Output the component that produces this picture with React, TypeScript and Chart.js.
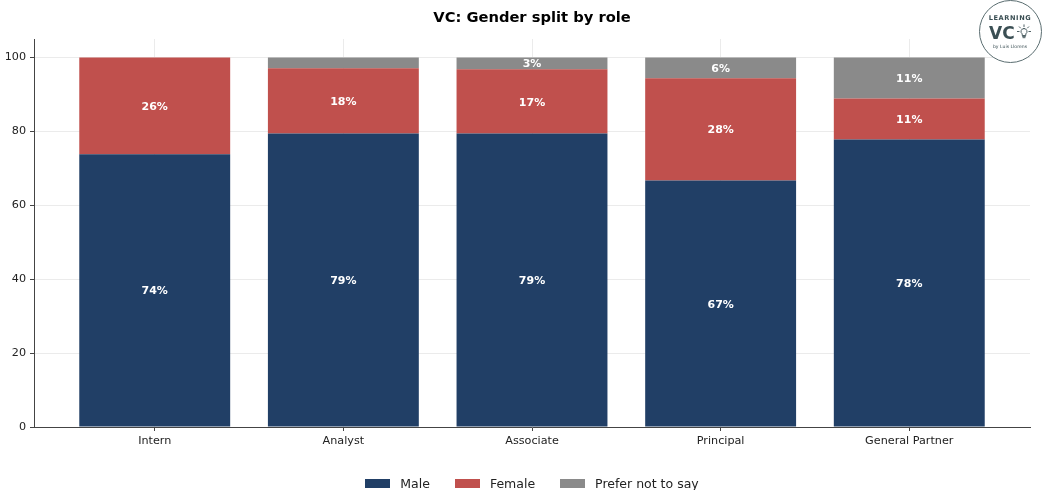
import React, { useEffect, useRef } from "react";
import { Chart, registerables } from "chart.js";

Chart.register(...registerables);

const categories = ["Intern", "Analyst", "Associate", "Principal", "General Partner"];
const maleValues = [73.8, 79.4, 79.4, 66.7, 77.8];
const femaleValues = [26.2, 17.7, 17.4, 27.7, 11.1];
const preferValues = [0, 2.9, 3.2, 5.6, 11.1];
const seriesNames = ["Male", "Female", "Prefer not to say"];
const yTicks = [0, 20, 40, 60, 80, 100];

const colors = ["#213F66", "#C0504D", "#8A8A8A"];
const FONT = "'DejaVu Sans', sans-serif";

const labelPlugin = {
  id: "segLabels",
  afterDatasetsDraw(chart: any) {
    const ctx = chart.ctx;
    ctx.save();
    ctx.font = `bold 11px ${FONT}`;
    ctx.fillStyle = "#ffffff";
    ctx.textAlign = "center";
    ctx.textBaseline = "middle";
    chart.data.datasets.forEach((ds: any, di: number) => {
      const meta = chart.getDatasetMeta(di);
      meta.data.forEach((el: any, i: number) => {
        const v = ds.data[i].y;
        if (v >= 3) {
          const y = (el.y + el.base) / 2 + 1.2;
          ctx.fillText(`${Math.round(v)}%`, el.x, y);
        }
      });
    });
    ctx.restore();
  },
};

export default function App() {
  const ref = useRef<HTMLCanvasElement | null>(null);

  useEffect(() => {
    document.body.style.margin = "0";
    const seriesValues = [maleValues, femaleValues, preferValues];
    const chart = new Chart(ref.current as HTMLCanvasElement, {
      type: "bar",
      data: {
        datasets: seriesNames.map((name, si) => ({
          label: name,
          data: seriesValues[si].map((v, i) => ({ x: i, y: v })),
          backgroundColor: colors[si],
          borderWidth: 0,
          barPercentage: 0.8,
          categoryPercentage: 1,
        })),
      },
      options: {
        responsive: false,
        animation: false,
        layout: { padding: { left: 0, right: 14, top: 0, bottom: 33 } },
        plugins: {
          legend: { display: false },
          tooltip: { enabled: false },
          title: {
            display: true,
            text: "VC: Gender split by role",
            fullSize: false,
            color: "#000000",
            font: { family: FONT, size: 14.7, weight: "bold", lineHeight: 1.2 },
            padding: { top: 9.5, bottom: 11.86 },
          },
        },
        scales: {
          x: {
            type: "linear",
            stacked: true,
            offset: false,
            min: -0.64,
            max: 4.64,
            afterBuildTicks: (scale: any) => {
              scale.ticks = categories.map((_, i) => ({ value: i }));
            },
            afterFit: (scale: any) => {
              scale.height = 30;
            },
            ticks: {
              callback: (v: any) => categories[v] ?? "",
              color: "#222222",
              font: { family: FONT, size: 11.2 },
              padding: 3.5,
              maxRotation: 0,
              autoSkip: false,
            },
            grid: {
              offset: false,
              color: "#ebebeb",
              tickColor: "#444444",
              tickLength: 4,
              lineWidth: 1,
            },
            border: { color: "#444444", width: 1 },
          },
          y: {
            stacked: true,
            min: 0,
            max: 105,
            afterBuildTicks: (scale: any) => {
              scale.ticks = yTicks.map((v) => ({ value: v }));
            },
            afterFit: (scale: any) => {
              scale.width = 34;
            },
            ticks: {
              color: "#222222",
              font: { family: FONT, size: 11.2 },
              padding: 4,
            },
            grid: {
              color: "#ebebeb",
              tickColor: "#444444",
              tickLength: 4,
              lineWidth: 1,
            },
            border: { color: "#444444", width: 1 },
          },
        },
      },
      plugins: [labelPlugin],
    } as any);
    return () => chart.destroy();
  }, []);

  const legendItems = seriesNames.map((n, i) => (
    <div key={n} style={{ display: "flex", alignItems: "center", marginRight: i < seriesNames.length - 1 ? 25 : 0 }}>
      <span style={{ display: "inline-block", width: 25, height: 9, background: colors[i], marginRight: 10 }} />
      <span>{n}</span>
    </div>
  ));

  return (
    <div style={{ position: "relative", width: 1044, height: 490, background: "#ffffff", overflow: "hidden" }}>
      <canvas ref={ref} width={1044} height={490} style={{ width: 1044, height: 490, display: "block" }} />
      <div
        style={{
          position: "absolute",
          left: 34,
          width: 996,
          top: 475,
          height: 17,
          lineHeight: "17px",
          display: "flex",
          justifyContent: "center",
          alignItems: "center",
          fontFamily: FONT,
          fontSize: 12.5,
          color: "#222222",
        }}
      >
        {legendItems}
      </div>
      <div
        style={{
          position: "absolute",
          left: 979,
          top: 0,
          width: 63,
          height: 63,
          boxSizing: "border-box",
          border: "1.5px solid #5a6d70",
          borderRadius: "50%",
          background: "#ffffff",
          fontFamily: FONT,
          color: "#3b4f54",
          textAlign: "center",
        }}
      >
        <div style={{ position: "absolute", left: 0, width: 60, top: 13, fontSize: 6.6, fontWeight: "bold", letterSpacing: 0.6, lineHeight: "8px" }}>
          LEARNING
        </div>
        <div style={{ position: "absolute", left: 9, top: 23, fontSize: 17, fontWeight: "bold", lineHeight: "18px" }}>VC</div>
        <svg style={{ position: "absolute", left: 36, top: 23 }} width="16" height="16" viewBox="0 0 16 16">
          <g stroke="#3b4f54" strokeWidth="0.9" fill="none" strokeLinecap="round">
            <path d="M8 4.5 a3 3 0 0 1 1.8 5.4 v1.6 h-3.6 v-1.6 A3 3 0 0 1 8 4.5 z" />
            <line x1="6.6" y1="12.6" x2="9.4" y2="12.6" />
            <line x1="7" y1="13.7" x2="9" y2="13.7" />
            <line x1="8" y1="0.8" x2="8" y2="2.6" />
            <line x1="3.3" y1="2.8" x2="4.5" y2="4" />
            <line x1="12.7" y1="2.8" x2="11.5" y2="4" />
            <line x1="1.4" y1="7.5" x2="3.1" y2="7.5" />
            <line x1="12.9" y1="7.5" x2="14.6" y2="7.5" />
          </g>
        </svg>
        <div style={{ position: "absolute", left: 0, width: 60, top: 43, fontSize: 4.6, lineHeight: "6px" }}>by Luis Llorens</div>
      </div>
    </div>
  );
}
